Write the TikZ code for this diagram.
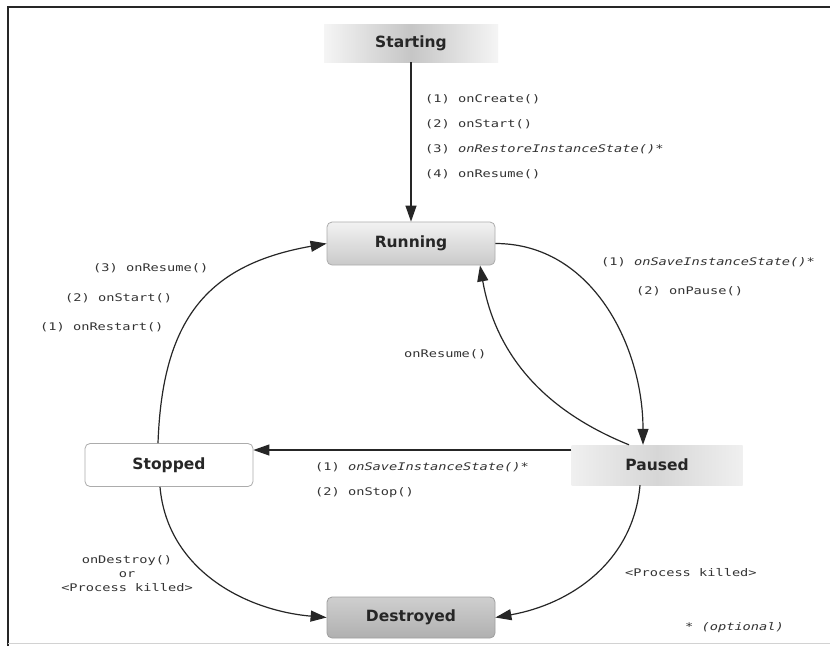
\documentclass[tikz,border=0pt]{standalone}
\usepackage{fontspec}
\usetikzlibrary{arrows.meta}
\newfontfamily\nodefont{DejaVu Sans}
\newfontfamily\lblfont[FakeStretch=1.3]{DejaVu Sans Mono}
\begin{document}
\begin{tikzpicture}[x=1pt,y=1pt,
  state/.style={minimum width=168pt, minimum height=43pt, inner sep=0pt,
    font=\nodefont\bfseries\fontsize{15.5}{18}\selectfont, text=black!85},
  roundbox/.style={state, rounded corners=5pt, draw=gray!65, line width=0.8pt},
  fadebox/.style={state},
  conn/.style={line width=1.2pt, draw=black!85, -{Triangle[length=16pt,width=11pt]}},
  lbl/.style={font=\lblfont\fontsize{10.5}{14}\selectfont, text=black!80, anchor=west, inner sep=0pt},
]
\useasboundingbox (0,0) rectangle (830,-646);
\fill[white] (0,0) rectangle (830,-646);
% frame
\draw[line width=2pt, black!85] (8,-646) -- (8,-7) -- (830,-7);
\draw[line width=1pt, gray!35] (8,-643) -- (830,-643);

% states
\node[fadebox, minimum width=174pt, minimum height=38pt, left color=gray!8, right color=gray!8, middle color=gray!45] (sta) at (411,-43) {Starting};
\node[roundbox, top color=gray!10, bottom color=gray!42] (run) at (411,-243.5) {Running};
\node[roundbox, fill=white] (stp) at (169,-465) {Stopped};
\node[fadebox, minimum width=171pt, minimum height=40pt, left color=gray!12, right color=gray!12, middle color=gray!32] (pau) at (657,-465) {Paused};
\node[roundbox, minimum height=41pt, top color=gray!38, bottom color=gray!62, draw=gray!75] (des) at (411,-617.5) {Destroyed};

% connectors
\draw[conn] (sta.south) -- (run.north);
\draw[conn] (run.east) to[out=0,in=90] ([xshift=-14pt]pau.north);
\draw[conn] ([xshift=-28pt]pau.north) to[out=158,in=-80] ([xshift=69pt]run.south);
\coordinate (pw) at ([yshift=15pt]pau.west);
\draw[conn] (pw) -- (pw -| stp.east);
\draw[conn] ([xshift=-11pt]stp.north) to[out=88,in=190,looseness=1.2] (run.west);
\draw[conn] ([xshift=-9pt]stp.south) to[out=-85,in=175] (des.west);
\draw[conn] ([xshift=-17pt]pau.south) to[out=-95,in=10] (des.east);

% labels
\node[lbl] (l1) at (425,-99) {(1) onCreate()};
\node[lbl] (l2) at (425,-124) {(2) onStart()};
\node[lbl] (l3) at (425,-149) {(3) {\itshape onRestoreInstanceState()*}};
\node[lbl] (l4) at (425,-174) {(4) onResume()};

\node[lbl] (r3) at (93,-268) {(3) onResume()};
\node[lbl] (r2) at (65,-298) {(2) onStart()};
\node[lbl] (r1) at (40,-327) {(1) onRestart()};

\node[lbl] (p1) at (601,-262) {(1) {\itshape onSaveInstanceState()*}};
\node[lbl] (p2) at (636,-291) {(2) onPause()};

\node[lbl] (res) at (404,-354) {onResume()};

\node[lbl] (s1) at (315,-467) {(1) {\itshape onSaveInstanceState()*}};
\node[lbl] (s2) at (315,-493) {(2) onStop()};

\node[lbl, anchor=center, align=center] (dk) at (127,-574) {onDestroy()\\or\\<Process killed>};
\node[lbl] (pk) at (625,-573) {<Process killed>};
\node[lbl] (opt) at (685,-628) {* {\itshape (optional)}};
\end{tikzpicture}
\end{document}
